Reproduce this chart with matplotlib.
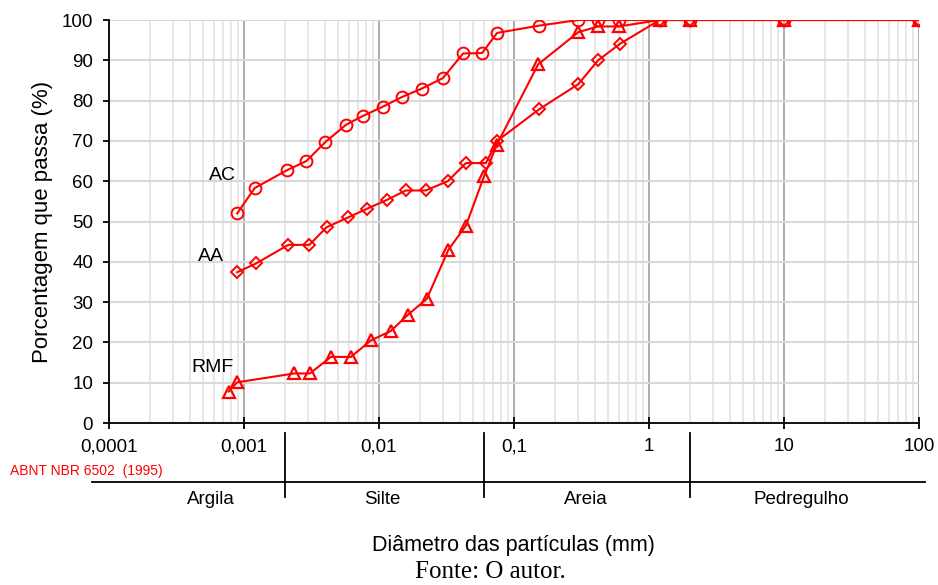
import numpy as np
import matplotlib
matplotlib.use("Agg")
import matplotlib.pyplot as plt
from matplotlib.ticker import FixedLocator, FuncFormatter, LogLocator, NullFormatter
import matplotlib.transforms as mtransforms

plt.rcParams['font.family'] = ['Liberation Sans', 'DejaVu Sans']

# Diameter (mm) and percentage passing for each sample
d_ac = [0.00089, 0.0012, 0.0021, 0.0029, 0.0040, 0.0057, 0.0076, 0.0107, 0.0148,
        0.0208, 0.0298, 0.042, 0.058, 0.075, 0.153, 0.30, 0.42, 0.60, 1.2, 2.0, 10, 100]
p_ac = [52.0, 58.3, 62.8, 65.0, 69.7, 74.0, 76.2, 78.5, 80.9,
        83.0, 85.6, 91.7, 91.8, 96.8, 98.6, 100, 100, 100, 100, 100, 100, 100]

d_aa = [0.00089, 0.00123, 0.00213, 0.00305, 0.0041, 0.0059, 0.0082, 0.0115, 0.0158,
        0.0222, 0.0323, 0.0441, 0.062, 0.075, 0.153, 0.30, 0.42, 0.61, 1.2, 2.0, 10, 100]
p_aa = [37.4, 39.6, 44.2, 44.2, 48.6, 51.0, 53.2, 55.4, 57.7,
        57.7, 60.0, 64.5, 64.5, 70.0, 77.8, 84.1, 90.0, 94.1, 100, 100, 100, 100]

d_rmf = [0.00077, 0.00089, 0.00236, 0.00308, 0.0044, 0.0062, 0.0087, 0.0122, 0.0163,
         0.0226, 0.0327, 0.0441, 0.060, 0.0745, 0.151, 0.30, 0.42, 0.60, 1.2, 2.0, 10, 100]
p_rmf = [7.8, 10.1, 12.3, 12.3, 16.4, 16.4, 20.5, 22.8, 26.8,
         30.8, 43.0, 49.0, 61.2, 69.0, 89.0, 97.0, 98.4, 98.4, 100, 100, 100, 100]

series_labels = ["AC", "AA", "RMF"]
label_pos = [(0.00069, 61.5), (0.00057, 41.4), (0.00058, 13.8)]

x_ticks = [0.0001, 0.001, 0.01, 0.1, 1, 10, 100]
x_tick_labels = ["0,0001", "0,001", "0,01", "0,1", "1", "10", "100"]

# ABNT NBR 6502 limits (mm) and class names
class_limits = [0.002, 0.06, 2.0]
class_names = ["Argila", "Silte", "Areia", "Pedregulho"]
class_centers = [0.00057, 0.0105, 0.343, 13.5]

fig = plt.figure(figsize=(9.38, 5.85), dpi=100)
ax = fig.add_axes([0.1162, 0.2769, 0.9797 - 0.1162, 0.9658 - 0.2769])

red = "#ff0000"
ax.plot(d_ac, p_ac, color=red, lw=1.5, marker="o", ms=8.5, mfc="none", mec=red, mew=1.4, zorder=5)
ax.plot(d_aa, p_aa, color=red, lw=1.5, marker="D", ms=6, mfc="none", mec=red, mew=1.4, zorder=5)
ax.plot(d_rmf, p_rmf, color=red, lw=1.5, marker="^", ms=9, mfc="none", mec=red, mew=1.6, zorder=5)

for lab, (xx, yy) in zip(series_labels, label_pos):
    ax.text(xx, yy, lab, fontsize=14, ha="center", va="center")

ax.set_xscale("log")
ax.set_xlim(0.0001, 100)
ax.set_ylim(0, 100)
ax.xaxis.set_major_locator(FixedLocator(x_ticks))
ax.xaxis.set_major_formatter(FuncFormatter(lambda v, pos: x_tick_labels[pos] if pos is not None and pos < len(x_tick_labels) else ""))
ax.xaxis.set_minor_locator(LogLocator(base=10, subs=np.arange(2, 10), numticks=20))
ax.xaxis.set_minor_formatter(NullFormatter())
ax.set_yticks(np.arange(0, 101, 10))

ax.grid(True, which="major", axis="x", color="#a6a6a6", lw=1.3)
ax.grid(True, which="minor", axis="x", color="#e6e6e6", lw=1.3)
ax.grid(True, which="major", axis="y", color="#d9d9d9", lw=1.5)
ax.set_axisbelow(True)

for s in ["top", "right"]:
    ax.spines[s].set_visible(False)
ax.spines["left"].set_linewidth(1.3)
ax.spines["bottom"].set_linewidth(1.3)
ax.tick_params(axis="x", which="major", direction="inout", length=8, width=1.3, labelsize=13.5, pad=7)
ax.tick_params(axis="y", which="major", direction="out", length=4.5, width=1.3, labelsize=13.5, pad=7)
ax.tick_params(axis="x", which="minor", length=0)
ax.set_ylabel("Porcentagem que passa (%)", fontsize=16, labelpad=6)

# classification scale under the axis
trans = mtransforms.blended_transform_factory(ax.transData, ax.transAxes)
ax.plot([7.5e-5, 110], [-0.146, -0.146], color="black", lw=1.3, transform=trans, clip_on=False)
for lim in class_limits:
    ax.plot([lim, lim], [-0.025, -0.184], color="black", lw=1.3, transform=trans, clip_on=False)
for name, xc in zip(class_names, class_centers):
    ax.text(xc, -0.19, name, fontsize=13.5, ha="center", va="center", transform=trans)
ax.text(-0.122, -0.12, "ABNT NBR 6502  (1995)", fontsize=10, color=red,
        ha="left", va="center", transform=ax.transAxes)

fig.text(0.547, 0.067, "Diâmetro das partículas (mm)", fontsize=15.5, ha="center", va="center")
fig.text(0.523, 0.012, "Fonte: O autor.", fontsize=18, ha="center", va="baseline",
         family="Liberation Serif")

fig.savefig("out.png", dpi=100)
